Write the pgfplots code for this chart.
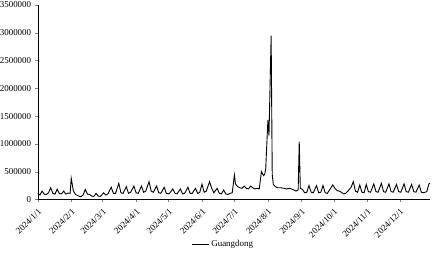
\documentclass[border=0pt]{standalone}
\usepackage{fontspec}
\setmainfont{Liberation Serif}
\usepackage{pgfplots}
\pgfplotsset{compat=1.18}
\begin{document}
\begin{tikzpicture}
\begin{axis}[
  name=ax,
  scale only axis,
  width=392bp, height=194.3bp,
  xmin=0, xmax=363, ymin=0, ymax=3500000,
  axis x line*=bottom, axis y line*=left,
  x axis line style={-}, y axis line style={-},
  tick align=outside, major tick length=3bp,
  xtick={0,31,60,91,121,152,182,213,244,274,305,335},
  xticklabels={2024/1/1,2024/2/1,2024/3/1,2024/4/1,2024/5/1,2024/6/1,2024/7/1,2024/8/1,2024/9/1,2024/10/1,2024/11/1,2024/12/1},
  ytick={0,500000,1000000,1500000,2000000,2500000,3000000,3500000},
  scaled y ticks=false,
  yticklabel style={/pgf/number format/fixed,/pgf/number format/1000 sep={}},
  /pgf/number format/assume math mode=true,
  tick label style={font=\fontsize{9}{10}\selectfont},
  xticklabel style={rotate=45, anchor=north east, inner sep=1pt},
  xticklabel shift=4bp,
  legend style={draw=none, at={(0.473,-0.232)}, anchor=center, font=\fontsize{9}{10}\selectfont, inner sep=1pt},
  legend image code/.code={\draw[#1] (0bp,0bp) -- (17bp,0bp);},
]
\addplot[black, line width=0.9pt] coordinates {
(0,110000)(2,80000)(4,150000)(6,95000)(8,90000)(10,120000)(12,210000)(14,110000)(16,95000)
(18,185000)(20,105000)(22,100000)(24,150000)(26,95000)(28,115000)(30,110000)(31,380000)
(33,150000)(35,90000)(38,60000)(40,50000)(42,80000)(44,180000)(46,95000)(48,90000)
(50,60000)(52,55000)(54,110000)(56,60000)(58,55000)(61,120000)(63,80000)(65,100000)
(68,220000)(70,110000)(72,110000)(75,290000)(77,120000)(79,110000)(82,230000)(84,110000)
(86,130000)(89,240000)(91,120000)(93,110000)(96,240000)(98,130000)(100,150000)(103,320000)
(105,150000)(107,130000)(110,240000)(112,120000)(114,110000)(117,220000)(119,110000)
(121,100000)(122,110000)(125,190000)(127,110000)(129,100000)(132,190000)(134,100000)
(136,110000)(139,220000)(141,110000)(143,110000)(146,200000)(148,110000)(150,130000)
(152,275000)(154,130000)(156,150000)(159,320000)(161,200000)(163,120000)(166,200000)
(168,110000)(170,100000)(172,170000)(174,100000)(176,90000)(178,110000)(180,120000)
(182,440000)(183,280000)(185,230000)(187,210000)(189,200000)(191,240000)(193,200000)
(195,190000)(197,240000)(199,210000)(201,190000)(203,200000)(205,190000)(207,500000)
(209,430000)(210,450000)(211,560000)(212,1000000)(213,1430000)(214,1150000)(216,2950000)
(217,450000)(218,270000)(220,230000)(222,210000)(225,210000)(228,200000)(230,190000)
(233,200000)(236,180000)(239,150000)(241,170000)(242,1040000)(243,200000)(245,180000)
(247,120000)(249,130000)(251,250000)(253,130000)(255,120000)(258,250000)(260,120000)
(262,130000)(264,250000)(266,120000)(268,110000)(271,200000)(273,260000)(275,200000)
(277,160000)(279,150000)(281,130000)(283,100000)(285,110000)(287,150000)(290,220000)
(292,320000)(294,150000)(296,130000)(298,260000)(300,130000)(302,120000)(304,270000)
(306,140000)(308,130000)(311,280000)(313,140000)(315,130000)(318,290000)(320,140000)
(322,130000)(325,280000)(327,140000)(329,130000)(332,270000)(334,140000)(336,130000)
(339,280000)(341,140000)(343,130000)(346,270000)(348,140000)(350,130000)(353,260000)
(355,130000)(357,120000)(360,140000)(362,280000)(363,290000)
};
\addlegendentry{Guangdong}
\end{axis}
\pgfresetboundingbox
\path[use as bounding box] ([xshift=-37.7bp,yshift=-55.7bp]ax.south west) rectangle ([xshift=2bp,yshift=5bp]ax.north east);
\end{tikzpicture}
\end{document}
